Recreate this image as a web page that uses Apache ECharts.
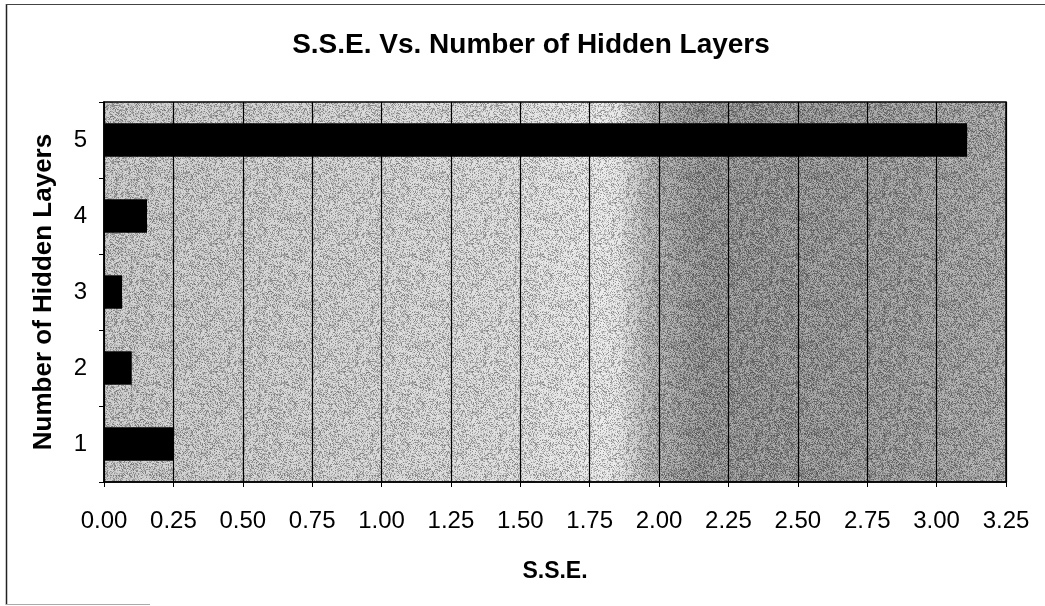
<!DOCTYPE html>
<html>
<head>
<meta charset="utf-8">
<title>S.S.E. Vs. Number of Hidden Layers</title>
<script src="https://cdn.jsdelivr.net/npm/echarts@6/dist/echarts.min.js"></script>
<style>
  html, body { margin: 0; padding: 0; background: #ffffff; }
  #chart { width: 1045px; height: 606px; }
</style>
</head>
<body>
<div id="chart"></div>
<script>
// Hidden-layer counts on the vertical axis, bottom to top
const layers = ['1', '2', '3', '4', '5'];
// Sum of squared errors for each network size
const sseValues = [0.25, 0.10, 0.065, 0.155, 3.11];
// S.S.E. axis range and step
const sseMin = 0;
const sseMax = 3.25;
const sseStep = 0.25;

const FONT = "'Liberation Sans', Arial, Helvetica, sans-serif";

// Plot rectangle in pixels
const plot = { left: 104, top: 102, right: 1006, bottom: 482 };

// Fine grain texture for the plot background (deterministic hash, not data)
function grainTile(size) {
  const c = document.createElement('canvas');
  c.width = size; c.height = size;
  const ctx = c.getContext('2d');
  const img = ctx.createImageData(size, size);
  let s = 1234567;
  function next() {
    s = (s * 1103515245 + 12345) & 0x7fffffff;
    return s / 0x7fffffff;
  }
  for (let i = 0; i < size * size; i++) {
    const r = next();
    const dark = r < 0.5;
    const v = dark ? 0 : 255;
    img.data[i * 4] = v;
    img.data[i * 4 + 1] = v;
    img.data[i * 4 + 2] = v;
    img.data[i * 4 + 3] = Math.floor((dark ? 0.9 : 0.8) * 255 * next());
  }
  ctx.putImageData(img, 0, 0);
  return c;
}

const chart = echarts.init(document.getElementById('chart'), null, { renderer: 'canvas' });

const option = {
  backgroundColor: '#ffffff',
  animation: false,
  title: {
    text: 'S.S.E. Vs. Number of Hidden Layers',
    left: 526,
    top: 26,
    textAlign: 'center',
    textStyle: { fontFamily: FONT, fontWeight: 'bold', fontSize: 28, color: '#000' }
  },
  grid: {
    left: plot.left,
    top: plot.top,
    right: 1045 - plot.right,
    bottom: 606 - plot.bottom,
    show: true,
    backgroundColor: 'transparent',
    borderColor: '#000',
    borderWidth: 1.5,
    z: 3
  },
  xAxis: {
    type: 'value',
    min: sseMin,
    max: sseMax,
    interval: sseStep,
    name: 'S.S.E.',
    nameLocation: 'middle',
    nameGap: 78,
    nameTextStyle: { fontFamily: FONT, fontWeight: 'bold', fontSize: 23, color: '#000' },
    axisLine: { show: true, lineStyle: { color: '#000', width: 1.5 } },
    axisTick: { show: true, length: 5, lineStyle: { color: '#000', width: 1 } },
    axisLabel: {
      margin: 27,
      fontFamily: FONT,
      fontSize: 24,
      color: '#000',
      formatter: v => v.toFixed(2)
    },
    splitLine: { show: true, lineStyle: { color: '#000', width: 1.2 } }
  },
  yAxis: {
    type: 'category',
    data: layers,
    name: 'Number of Hidden Layers',
    nameLocation: 'middle',
    nameGap: 47,
    nameTextStyle: { fontFamily: FONT, fontWeight: 'bold', fontSize: 26, color: '#000' },
    axisLine: { show: true, lineStyle: { color: '#000', width: 1.5 } },
    axisTick: { show: true, length: 5, lineStyle: { color: '#000', width: 1 } },
    axisLabel: { margin: 17, fontFamily: FONT, fontSize: 24, color: '#000' },
    splitLine: { show: false }
  },
  series: [{
    type: 'bar',
    data: sseValues,
    barCategoryGap: '56%',
    itemStyle: { color: '#000' },
    z: 4
  }],
  graphic: [
    // Plot background: grey on the left, fading lighter, then a dark band from about 1.9
    {
      type: 'rect',
      z: -10,
      silent: true,
      shape: { x: plot.left, y: plot.top, width: plot.right - plot.left, height: plot.bottom - plot.top },
      style: {
        fill: new echarts.graphic.LinearGradient(0, 0, 1, 0, [
          { offset: 0.00, color: '#c4c4c4' },
          { offset: 0.25, color: '#cfcfcf' },
          { offset: 0.45, color: '#dadada' },
          { offset: 0.55, color: '#e8e8e8' },
          { offset: 0.57, color: '#e4e4e4' },
          { offset: 0.61, color: '#a8a8a8' },
          { offset: 0.66, color: '#8a8a8a' },
          { offset: 0.78, color: '#8e8e8e' },
          { offset: 0.90, color: '#979797' },
          { offset: 1.00, color: '#a4a4a4' }
        ])
      }
    },
    {
      type: 'rect',
      z: -9,
      silent: true,
      shape: { x: plot.left, y: plot.top, width: plot.right - plot.left, height: plot.bottom - plot.top },
      style: { fill: { image: grainTile(128), repeat: 'repeat' }, opacity: 0.45 }
    },
    // Outer frame of the figure
    {
      type: 'line', silent: true, z: 10,
      shape: { x1: 6.5, y1: 4, x2: 6.5, y2: 605 },
      style: { stroke: '#222', lineWidth: 1.5 }
    },
    {
      type: 'line', silent: true, z: 10,
      shape: { x1: 6, y1: 4.5, x2: 1045, y2: 4.5 },
      style: { stroke: '#444', lineWidth: 1.2 }
    },
    {
      type: 'line', silent: true, z: 10,
      shape: { x1: 6, y1: 604.5, x2: 150, y2: 604.5 },
      style: { stroke: '#aaa', lineWidth: 1 }
    }
  ]
};

chart.setOption(option);
</script>
</body>
</html>
